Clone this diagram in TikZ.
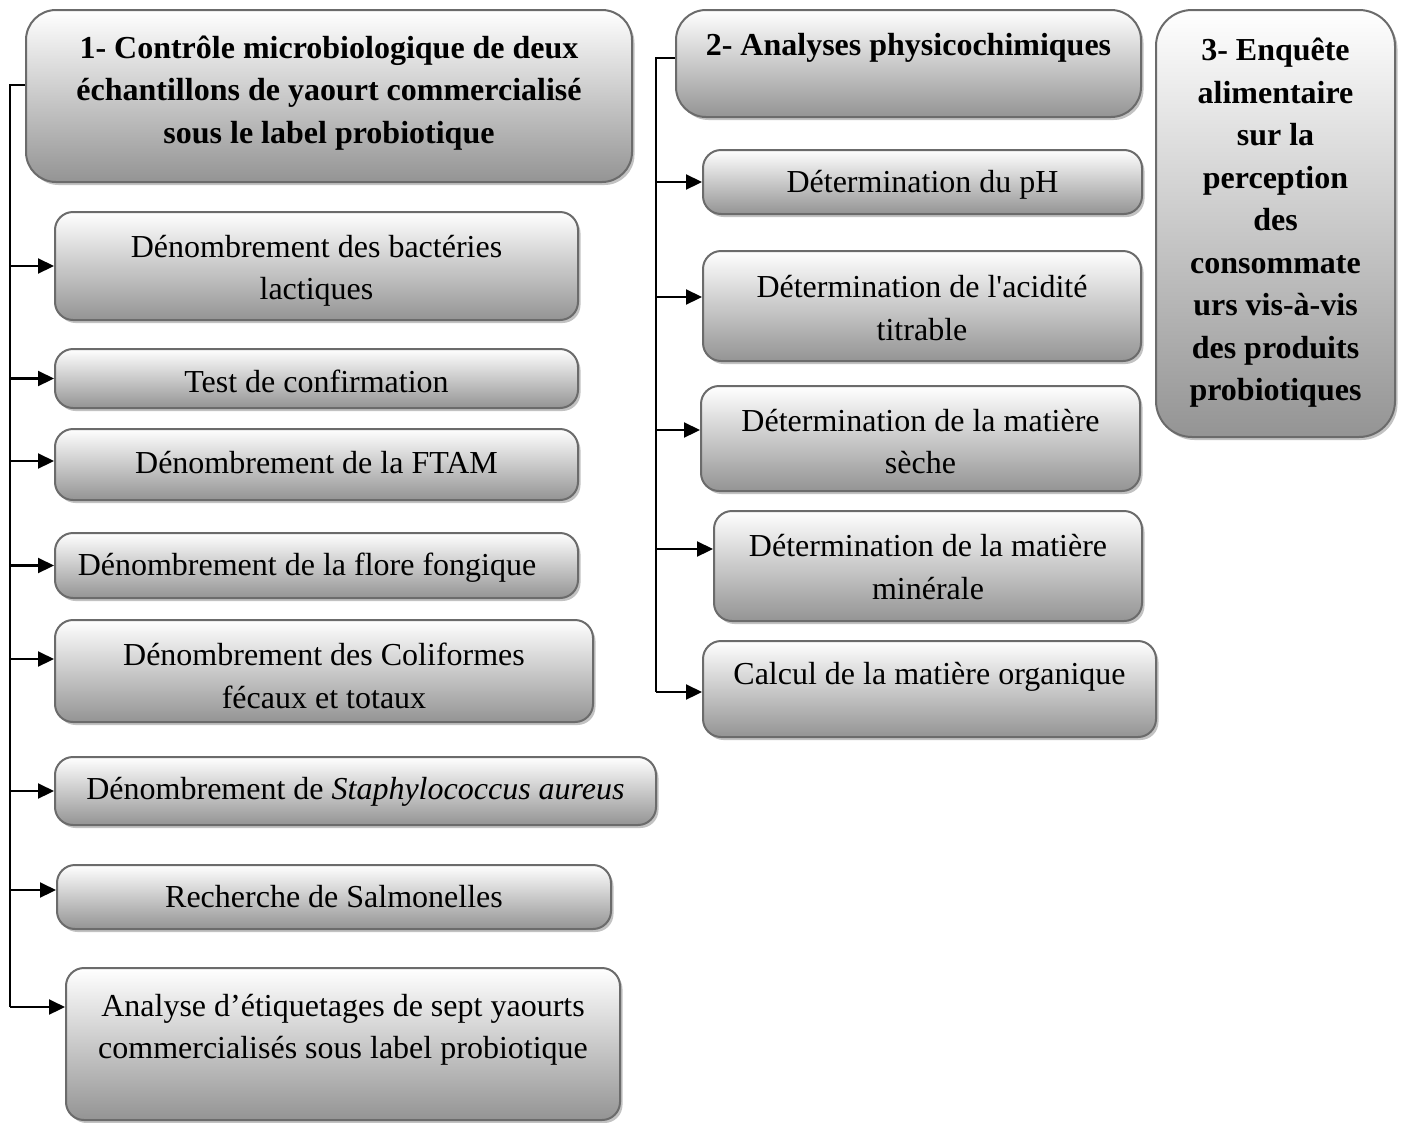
\documentclass[tikz,border=0pt]{standalone}
\usepackage{fontspec}
\setmainfont{Liberation Serif}[Ligatures=TeXOff]
\usepackage{xcolor}
\colorlet{BoxTop}{white}
\colorlet{BoxBottom}{black!42}
\colorlet{BoxBorder}{black!58}
\colorlet{BoxShadow}{black!40}
\usetikzlibrary{shadows, arrows.meta}

\tikzset{
  box/.style={draw=BoxBorder, line width=2pt, rounded corners=18pt,
    top color=BoxTop, bottom color=BoxBottom, inner sep=0pt,
    drop shadow={shadow xshift=2.5pt, shadow yshift=-3pt, fill=BoxShadow, opacity=0.6}},
  titlebox/.style={box, rounded corners=30pt},
  lbl/.style={align=center, inner sep=0pt, font=\fontsize{32}{42.5}\selectfont},
  titlelbl/.style={lbl, font=\fontsize{32}{42.5}\selectfont\bfseries},
  conn/.style={line width=2.2pt},
  arr/.style={conn, -{Triangle[length=16pt, width=15pt]}}
}

\begin{document}
\begin{tikzpicture}[x=1pt, y=-1pt]
\useasboundingbox (0,0) rectangle (1402,1122);

% left column
\node[titlebox, minimum width=606pt, minimum height=172pt] (t1) at (329,96) {};
\node[titlelbl] (t1l) at (329,93) {1- Contrôle microbiologique de deux\\ échantillons de yaourt commercialisé\\ sous le label probiotique};

\node[box, minimum width=523pt, minimum height=108pt] (m1) at (316.5,266) {};
\node[lbl] (m1l) at (316.5,271) {Dénombrement des bactéries\\ lactiques};
\node[box, minimum width=523pt, minimum height=59pt] (m2) at (316.5,378.5) {};
\node[lbl] (m2l) at (316.5,381) {Test de confirmation};
\node[box, minimum width=523pt, minimum height=71pt] (m3) at (316.5,464.5) {};
\node[lbl] (m3l) at (316.5,463) {Dénombrement de la FTAM};
\node[box, minimum width=523pt, minimum height=65pt] (m4) at (316.5,565.5) {};
\node[lbl] (m4l) at (307,568) {Dénombrement de la flore fongique};
\node[box, minimum width=538pt, minimum height=102pt] (m5) at (324,671) {};
\node[lbl] (m5l) at (324,676) {Dénombrement des Coliformes\\ fécaux et totaux};
\node[box, minimum width=601pt, minimum height=68pt] (m6) at (355.5,791) {};
\node[lbl] (m6l) at (355.5,792) {Dénombrement de \textit{Staphylococcus aureus}};
\node[box, minimum width=554pt, minimum height=64pt] (m7) at (334,897) {};
\node[lbl] (m7l) at (334,897) {Recherche de Salmonelles};
\node[box, minimum width=554pt, minimum height=152pt] (m8) at (343,1044) {};
\node[lbl] (m8l) at (343,1030) {Analyse d’étiquetages de sept yaourts\\ commercialisés sous label probiotique};

% middle column
\node[titlebox, minimum width=465pt, minimum height=107pt] (t2) at (908.5,63.5) {};
\node[titlelbl] (t2l) at (908.5,48) {2- Analyses physicochimiques};

\node[box, minimum width=439pt, minimum height=64pt] (p1) at (922.5,182) {};
\node[lbl] (p1l) at (922.5,185) {Détermination du pH};
\node[box, minimum width=438pt, minimum height=110pt] (p2) at (922,306) {};
\node[lbl] (p2l) at (922,308) {Détermination de l'acidité\\ titrable};
\node[box, minimum width=439pt, minimum height=105pt] (p3) at (920.5,438.5) {};
\node[lbl] (p3l) at (920.5,441.5) {Détermination de la matière\\ sèche};
\node[box, minimum width=428pt, minimum height=110pt] (p4) at (928,566) {};
\node[lbl] (p4l) at (928,567) {Détermination de la matière\\ minérale};
\node[box, minimum width=453pt, minimum height=96pt] (p5) at (929.5,689) {};
\node[lbl] (p5l) at (929.5,677) {Calcul de la matière organique};

% right column
\node[titlebox, rounded corners=36pt, minimum width=239pt, minimum height=427pt] (t3) at (1275.5,223.5) {};
\node[titlelbl] (t3l) at (1275.5,223) {3- Enquête\\ alimentaire\\ sur la\\ perception\\ des\\ consommate\\ urs vis-à-vis\\ des produits\\ probiotiques};

% connectors, left
\coordinate (trunkL) at (10,0);
\coordinate (j1) at ([yshift=11pt]t1.west);
\coordinate (a1) at (m1.west);
\coordinate (a2) at (m2.west);
\coordinate (a3) at ([yshift=3.5pt]m3.west);
\coordinate (a4) at (m4.west);
\coordinate (a5) at ([yshift=12pt]m5.west);
\coordinate (a6) at (m6.west);
\coordinate (a7) at ([yshift=7pt]m7.west);
\coordinate (a8) at ([yshift=37pt]m8.west);
\draw[conn] (j1) -| (trunkL |- a8);
\draw[arr] (trunkL |- a1) -- (a1);
\draw[arr] (trunkL |- a2) -- (a2);
\draw[arr] (trunkL |- a3) -- (a3);
\draw[arr] (trunkL |- a4) -- (a4);
\draw[arr] (trunkL |- a5) -- (a5);
\draw[arr] (trunkL |- a6) -- (a6);
\draw[arr] (trunkL |- a7) -- (a7);
\draw[arr] (trunkL |- a8) -- (a8);

% connectors, middle
\coordinate (trunkM) at (656,0);
\coordinate (j2) at ([yshift=5.5pt]t2.west);
\coordinate (b1) at (p1.west);
\coordinate (b2) at ([yshift=9pt]p2.west);
\coordinate (b3) at ([yshift=8.5pt]p3.west);
\coordinate (b4) at ([yshift=17pt]p4.west);
\coordinate (b5) at ([yshift=-3pt]p5.west);
\draw[conn] (j2) -| (trunkM |- b5);
\draw[arr] (trunkM |- b1) -- (b1);
\draw[arr] (trunkM |- b2) -- (b2);
\draw[arr] (trunkM |- b3) -- (b3);
\draw[arr] (trunkM |- b4) -- (b4);
\draw[arr] (trunkM |- b5) -- (b5);

\end{tikzpicture}
\end{document}
